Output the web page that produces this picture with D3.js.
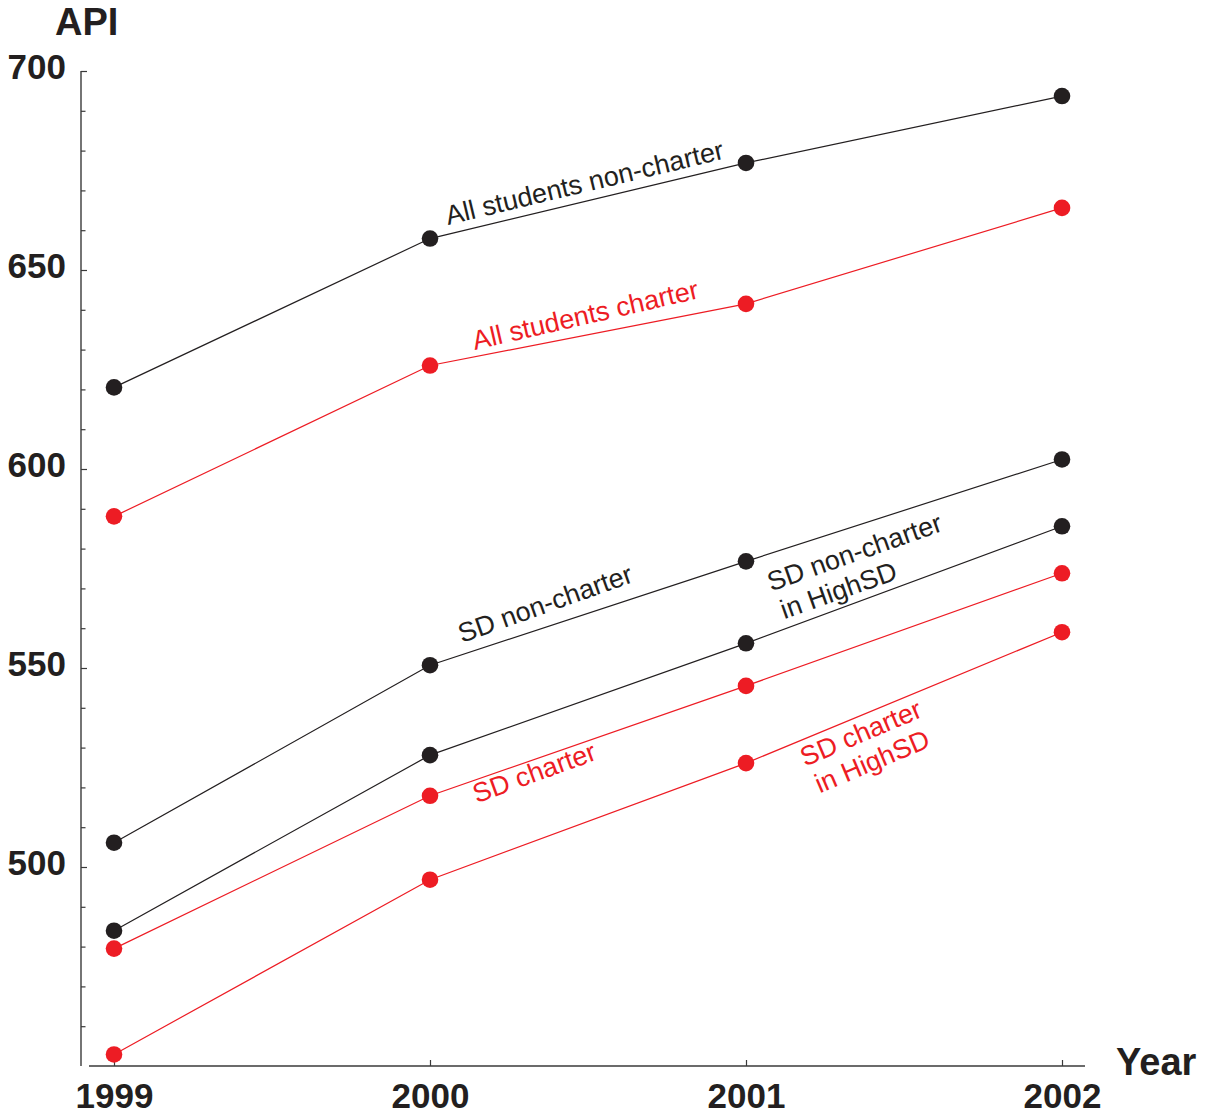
<!DOCTYPE html>
<html>
<head>
<meta charset="utf-8">
<script src="https://cdn.jsdelivr.net/npm/d3@7"></script>
<style>
  html, body { margin: 0; padding: 0; background: #fff; }
  svg { display: block; font-family: "Liberation Sans", Arial, Helvetica, sans-serif; }
</style>
</head>
<body>
<svg id="chart" width="1207" height="1118"></svg>
<script>
// ---- Data ----
const years = [1999, 2000, 2001, 2002];
const allNonCharter = [620.5, 657.9, 676.9, 693.7];
const allCharter = [588.1, 626.0, 641.5, 665.6];
const sdNonCharter = [506.1, 550.7, 576.8, 602.4];
const sdNonCharterHighSD = [484.0, 528.1, 556.2, 585.6];
const sdCharter = [479.5, 517.9, 545.5, 573.8];
const sdCharterHighSD = [452.9, 496.8, 526.1, 559.0];
const yTickValues = [460, 470, 480, 490, 500, 510, 520, 530, 540, 550, 560, 570, 580, 590, 600,
                     610, 620, 630, 640, 650, 660, 670, 680, 690, 700];
const yTickLabels = [500, 550, 600, 650, 700];
const xTickLabels = ["1999", "2000", "2001", "2002"];

// label annotations: text lines, anchor in data space (year, value), angle in degrees
const labelText = [
  ["All students non-charter"],
  ["All students charter"],
  ["SD non-charter"],
  ["SD non-charter", "in HighSD"],
  ["SD charter"],
  ["SD charter", "in HighSD"]
];
const labelYear = [2000.057, 2000.142, 2000.101, 2001.08, 2000.148, 2001.187];
const labelValue = [661.3, 629.9, 556.3, 569.2, 516.0, 525.2];
const labelAngle = [-13.5, -13, -19.5, -19.5, -20, -23];

const BLACK = "#231f20", RED = "#ed1c24", AXIS = "#3a3a3a";

const series = [
  { values: allNonCharter, color: BLACK },
  { values: allCharter, color: RED },
  { values: sdNonCharter, color: BLACK },
  { values: sdNonCharterHighSD, color: BLACK },
  { values: sdCharter, color: RED },
  { values: sdCharterHighSD, color: RED }
];

// ---- Layout ----
const svg = d3.select("#chart");
const yAxisX = 81, xAxisY = 1066, xAxisStart = 89, xAxisEnd = 1085;

const x = d3.scaleLinear().domain([1999, 2002]).range([114, 1062]);
const y = d3.scaleLinear().domain([450, 700]).range([1066, 71]);

// Y axis
const yAxis = d3.axisLeft(y)
  .tickValues(yTickValues)
  .tickSize(-5)
  .tickPadding(15)
  .tickFormat(d => yTickLabels.includes(d) ? String(d) : "");
const yg = svg.append("g").attr("transform", `translate(${yAxisX},0)`).call(yAxis);
yg.select(".domain").remove();
yg.selectAll(".tick line").attr("stroke", AXIS).attr("stroke-width", 1.2)
  .attr("x2", d => yTickLabels.includes(d) ? 6 : 4.5);
yg.selectAll(".tick text")
  .attr("font-size", 35).attr("font-weight", "bold").attr("fill", BLACK)
  .attr("font-family", "'Liberation Sans', Arial, sans-serif")
  .attr("dy", "0.22em");
svg.append("line")
  .attr("x1", yAxisX).attr("x2", yAxisX)
  .attr("y1", y(700)).attr("y2", xAxisY)
  .attr("stroke", AXIS).attr("stroke-width", 1.4);

// X axis
const xAxis = d3.axisBottom(x)
  .tickValues(years)
  .tickSize(-6)
  .tickPadding(17)
  .tickFormat((d, i) => xTickLabels[i]);
const xg = svg.append("g").attr("transform", `translate(0,${xAxisY})`).call(xAxis);
xg.select(".domain").remove();
xg.selectAll(".tick line").attr("stroke", AXIS).attr("stroke-width", 1.2);
xg.selectAll(".tick text")
  .attr("font-size", 35).attr("font-weight", "bold").attr("fill", BLACK)
  .attr("font-family", "'Liberation Sans', Arial, sans-serif")
  .attr("dy", "0.72em");
svg.append("line")
  .attr("x1", xAxisStart).attr("x2", xAxisEnd)
  .attr("y1", xAxisY).attr("y2", xAxisY)
  .attr("stroke", AXIS).attr("stroke-width", 1.4);

// Axis titles
svg.append("text").text("API")
  .attr("x", 55).attr("y", 35)
  .attr("font-size", 38).attr("font-weight", "bold").attr("fill", BLACK);
svg.append("text").text("Year")
  .attr("x", 1116).attr("y", 1075)
  .attr("font-size", 38).attr("font-weight", "bold").attr("fill", BLACK);

// Lines and points
const line = d3.line().x((d, i) => x(years[i])).y(d => y(d));
const sg = svg.append("g");
series.forEach(s => {
  sg.append("path").datum(s.values)
    .attr("d", line).attr("fill", "none")
    .attr("stroke", s.color).attr("stroke-width", 1.2);
});
series.forEach(s => {
  sg.selectAll(null).data(s.values).enter().append("circle")
    .attr("cx", (d, i) => x(years[i])).attr("cy", d => y(d))
    .attr("r", 8.3).attr("fill", s.color);
});

// Labels
labelText.forEach((lines, i) => {
  const color = series[i].color;
  const t = svg.append("text")
    .attr("transform", `translate(${x(labelYear[i])},${y(labelValue[i])}) rotate(${labelAngle[i]})`)
    .attr("font-size", 27).attr("fill", color);
  lines.forEach((ln, j) => {
    t.append("tspan").attr("x", j === 0 ? 0 : 3).attr("dy", j === 0 ? 0 : "1.13em").text(ln);
  });
});
</script>
</body>
</html>
